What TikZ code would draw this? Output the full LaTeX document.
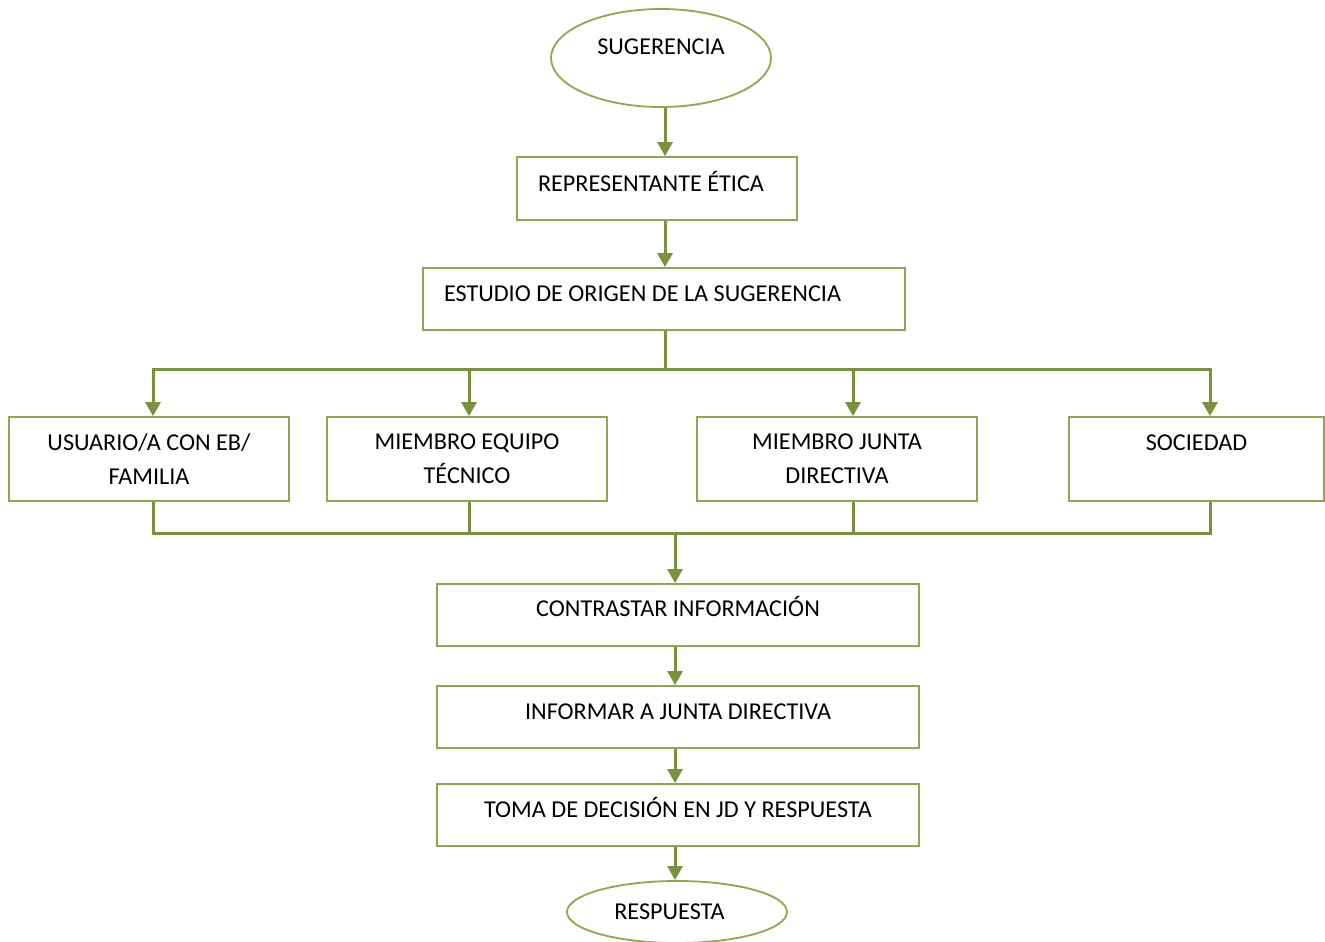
\documentclass[tikz,border=0pt]{standalone}
\usepackage{fontspec}
\setmainfont{Carlito}
\usetikzlibrary{arrows.meta,shapes.geometric}
\definecolor{boxgreen}{HTML}{8AAA4B}
\definecolor{linegreen}{HTML}{77933C}
\begin{document}
\begin{tikzpicture}[x=1pt,y=-1pt,
  every node/.style={font=\fontsize{24.2}{34}\selectfont, text=black},
  shapebase/.style={draw=boxgreen, line width=1.8pt, inner sep=0pt},
  oval/.style={shapebase, ellipse, text height=15pt, text depth=#1},
  boxl/.style={shapebase, rectangle, text width=#1, inner xsep=21pt, align=flush left, text height=15pt},
  boxc/.style={shapebase, rectangle, text height=15pt, text depth=#1},
  boxtwo/.style={shapebase, rectangle, align=center},
  ln/.style={draw=linegreen, line width=3pt},
  arr/.style={ln, -{Triangle[width=15pt,length=14pt]}}
]
\useasboundingbox (0,0) rectangle (1325,942);

\node[oval=22pt, minimum width=220pt, minimum height=98pt] (sug) at (661,58) {SUGERENCIA};
\node[boxl=238pt, text depth=9pt, minimum height=63pt] (rep) at (657,188.5) {REPRESENTANTE ÉTICA};
\node[boxl=440pt, text depth=10pt, minimum height=62pt] (est) at (664,299) {ESTUDIO DE ORIGEN DE LA SUGERENCIA};

\node[boxtwo, minimum width=280pt, minimum height=84pt] (b1) at (149,459) {USUARIO/A CON EB/\\FAMILIA};
\node[boxtwo, minimum width=280pt, minimum height=84pt] (b2) at (467,459) {MIEMBRO EQUIPO\\TÉCNICO};
\node[boxtwo, minimum width=280pt, minimum height=84pt] (b3) at (837,459) {MIEMBRO JUNTA\\DIRECTIVA};
\node[boxc=32pt, minimum width=255pt, minimum height=84pt] (b4) at (1196.5,459) {SOCIEDAD};

\node[boxc=12pt, minimum width=482pt, minimum height=62pt] (con) at (678,615) {CONTRASTAR INFORMACIÓN};
\node[boxc=10pt, minimum width=482pt, minimum height=62pt] (inf) at (678,717) {INFORMAR A JUNTA DIRECTIVA};
\node[boxc=10pt, minimum width=482pt, minimum height=62pt] (tom) at (678,815) {TOMA DE DECISIÓN EN JD Y RESPUESTA};
\node[oval=0pt, minimum width=220pt, minimum height=62pt] (res) at (677,912) {RESPUESTA\hspace*{15pt}};

\coordinate (spine) at (665,369);
\coordinate (t1) at (153,369);
\coordinate (t2) at (469,369);
\coordinate (t3) at (853,369);
\coordinate (t4) at (1210,369);
\coordinate (u1) at (153,533);
\coordinate (u2) at (469,533);
\coordinate (u3) at (853,533);
\coordinate (u4) at (1210,533);
\coordinate (spine2) at (675,533);

\draw[arr] (sug.south -| spine) -- (rep.north -| spine);
\draw[arr] (rep.south -| spine) -- (est.north -| spine);
\draw[ln] (est.south -| spine) -- (spine);
\draw[ln, line cap=rect] (t1) -- (t4);
\draw[arr] (t1) -- (t1 |- b1.north);
\draw[arr] (t2) -- (t2 |- b2.north);
\draw[arr] (t3) -- (t3 |- b3.north);
\draw[arr] (t4) -- (t4 |- b4.north);

\draw[ln] (u1 |- b1.south) -- (u1);
\draw[ln] (u2 |- b2.south) -- (u2);
\draw[ln] (u3 |- b3.south) -- (u3);
\draw[ln] (u4 |- b4.south) -- (u4);
\draw[ln, line cap=rect] (u1) -- (u4);

\draw[arr] (spine2) -- (spine2 |- con.north);
\draw[arr] (con.south -| spine2) -- (inf.north -| spine2);
\draw[arr] (inf.south -| spine2) -- (tom.north -| spine2);
\draw[arr] (tom.south -| spine2) -- (res.north -| spine2);
\end{tikzpicture}
\end{document}
